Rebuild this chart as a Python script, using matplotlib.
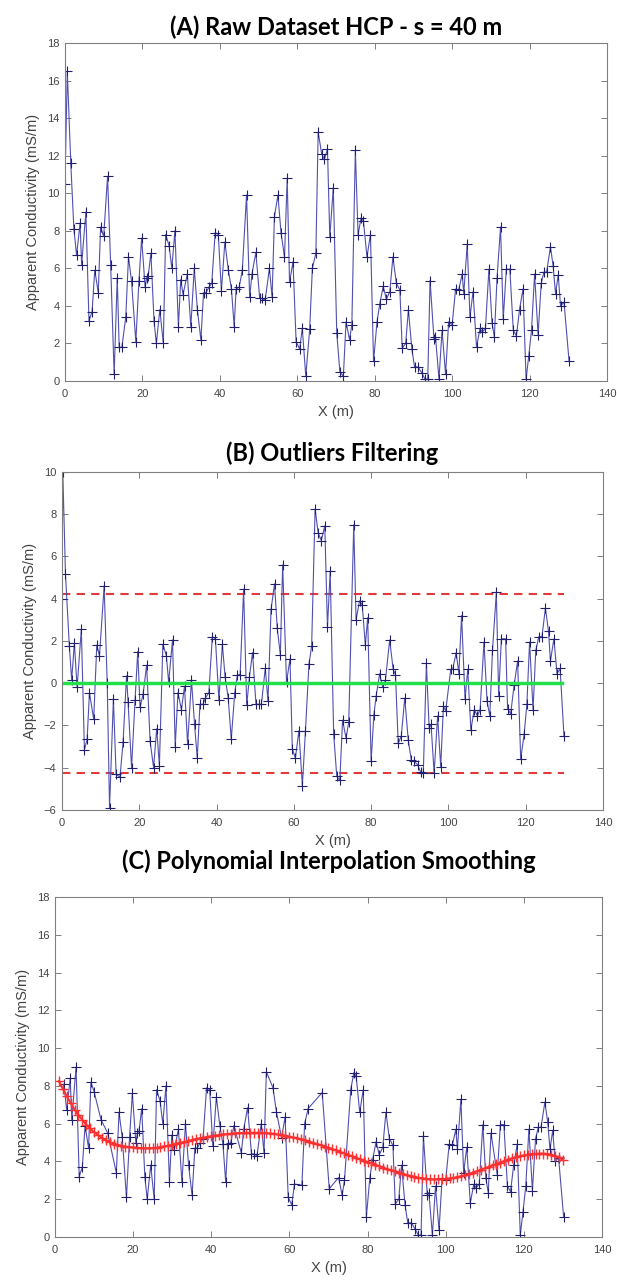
import numpy as np
import matplotlib
matplotlib.use('Agg')
import matplotlib.pyplot as plt

# raw apparent conductivity, HCP s = 40 m
a_x = [0.0, 0.6, 1.5, 2.3, 3.0, 3.9, 4.3, 5.4, 6.2, 7.0, 7.7, 8.6, 9.2, 10.0, 11.0, 11.8,
       12.7, 13.5, 14.0, 14.7, 15.7, 16.4, 17.2, 18.3, 19.1, 19.8, 20.7, 21.1, 21.5, 22.2,
       23.0, 23.6, 24.5, 25.4, 26.0, 26.9, 27.6, 28.4, 29.3, 29.9, 30.5, 31.6, 32.5, 33.4,
       34.2, 35.1, 35.8, 36.4, 37.2, 37.9, 38.8, 39.6, 40.4, 41.3, 42.2, 43.0, 43.7, 44.2,
       45.0, 45.8, 46.9, 47.7, 48.3, 49.3, 50.3, 50.9, 51.7, 52.8, 53.5, 54.1, 55.0, 55.8,
       56.7, 57.4, 58.0, 58.9, 59.7, 60.6, 61.3, 62.2, 63.2, 63.9, 64.8, 65.4, 66.3, 67.0,
       67.8, 68.4, 69.3, 70.2, 71.0, 71.9, 72.6, 73.5, 74.1, 75.0, 75.7, 76.5, 77.1, 78.0,
       78.9, 79.7, 80.6, 81.3, 82.2, 83.0, 83.9, 84.7, 85.6, 86.5, 87.1, 88.0, 88.7, 89.6,
       90.3, 91.2, 92.1, 93.0, 93.7, 94.3, 95.3, 95.7, 96.6, 97.4, 98.3, 99.1, 100.0, 100.9,
       101.7, 102.6, 103.0, 103.9, 104.6, 105.4, 106.3, 107.2, 107.8, 108.6, 109.5, 110.3,
       110.9, 111.6, 112.5, 113.2, 114.0, 114.9, 115.8, 116.6, 117.4, 118.3, 119.1, 119.8,
       120.5, 121.3, 122.2, 123.0, 123.7, 124.4, 125.4, 126.1, 126.7, 127.4, 128.0, 128.9,
       130.2]
a_val = [10.5, 16.5, 11.6, 8.1, 6.7, 8.4, 6.2, 9.0, 3.2, 3.7, 5.9, 4.7, 8.2, 7.7, 10.9, 6.2,
         0.35, 5.5, 1.8, 1.8, 3.4, 6.6, 5.3, 2.1, 5.3, 7.6, 5.0, 5.5, 5.6, 6.8,
         3.2, 2.0, 3.8, 2.0, 7.8, 7.2, 6.0, 8.0, 2.9, 5.4, 4.6, 5.7, 2.9, 6.0,
         3.8, 2.2, 4.7, 4.7, 5.0, 5.2, 7.9, 7.8, 4.8, 7.4, 5.9, 4.9, 2.9, 4.9,
         5.0, 5.9, 9.9, 4.45, 5.7, 6.85, 4.4, 4.4, 4.3, 6.0, 4.45, 8.75, 9.9, 7.9,
         6.6, 10.8, 5.25, 6.35, 2.1, 1.7, 2.8, 0.25, 2.75, 6.0, 6.8, 13.25, 12.1, 11.8,
         12.35, 7.65, 10.3, 2.55, 0.5, 0.25, 3.15, 2.2, 3.0, 12.3, 7.8, 8.7, 8.5, 6.6,
         7.8, 1.05, 3.15, 4.1, 5.05, 4.35, 4.75, 6.6, 5.2, 4.85, 1.75, 2.0, 3.8, 1.7,
         0.75, 0.75, 0.45, 0.1, 0.1, 5.35, 2.25, 2.35, 0.1, 2.7, 0.35, 3.15, 3.0, 4.9,
         4.85, 5.7, 4.65, 7.3, 3.4, 4.75, 1.8, 2.8, 2.6, 2.8, 5.95, 3.1,
         2.35, 5.5, 8.2, 3.3, 5.95, 5.95, 2.7, 2.4, 3.8, 4.9, 0.1, 1.35,
         2.7, 5.7, 2.45, 5.2, 5.8, 5.8, 7.15, 6.1, 4.65, 5.65, 4.0, 4.2,
         1.05]

# detrended values used for outlier filtering
b_x = [0.0, 0.2, 0.9, 1.9, 2.5, 3.2, 3.9, 5.0, 5.8, 6.5, 7.1, 8.2, 9.0, 9.7, 10.9, 11.7,
       12.3, 13.3, 14.0, 15.0, 15.8, 16.7, 17.1, 18.0, 18.9, 19.6, 20.2, 21.0, 21.9, 22.8,
       23.7, 24.5, 25.2, 26.1, 27.0, 27.6, 28.6, 29.3, 30.0, 30.9, 31.7, 32.5, 33.5, 34.3,
       35.0, 35.7, 36.5, 37.1, 38.0, 38.9, 39.7, 40.6, 41.5, 42.2, 43.0, 43.8, 44.7, 45.4,
       46.1, 47.0, 47.8, 48.5, 49.3, 50.2, 50.9, 51.6, 52.6, 53.3, 54.1, 55.0, 55.7, 56.5,
       57.1, 58.1, 59.0, 59.6, 60.4, 61.3, 62.2, 63.0, 63.9, 64.6, 65.5, 66.3, 67.1, 68.0,
       68.7, 69.4, 70.3, 71.1, 71.9, 72.6, 73.5, 74.2, 75.5, 76.1, 77.0, 77.7, 78.5, 79.1,
       80.0, 80.7, 81.3, 82.2, 83.0, 83.7, 84.8, 85.7, 86.3, 87.0, 87.8, 88.7, 89.6, 90.4,
       91.1, 92.0, 92.8, 93.5, 94.3, 95.0, 95.5, 96.3, 97.2, 98.0, 98.7, 99.3, 100.6, 101.1,
       102.0, 102.7, 103.4, 104.3, 105.0, 105.8, 106.7, 107.5, 108.2, 109.2, 110.0, 110.7,
       111.4, 112.4, 113.0, 113.7, 114.8, 115.3, 116.1, 117.0, 117.9, 118.7, 119.6, 120.3,
       121.0, 121.9, 122.6, 123.4, 124.2, 125.1, 125.9, 126.4, 127.3, 128.1, 128.9, 129.9]
b_val = [4.0, 10.0, 5.15, 1.75, 0.15, 1.9, -0.2, 2.55, -3.15, -2.65, -0.45, -1.7, 1.8, 1.3, 4.6, 0.0,
         -5.9, -0.75, -4.3, -4.45, -2.8, 0.35, -0.9, -4.0, -0.8, 1.5, -1.15, -0.5, 0.85, -2.75,
         -4.0, -2.15, -3.9, 1.85, 1.3, 0.05, 2.05, -3.0, -0.45, -1.25, -0.15, -2.9, 0.15, -1.95,
         -3.55, -1.0, -1.0, -0.7, -0.45, 2.2, 2.1, -0.8, 1.85, 0.3, -0.7, -2.65, -0.45, 0.4,
         0.4, 4.45, -1.05, 0.3, 1.45, -1.0, -1.0, -1.0, 0.7, -0.85, 3.5, 4.7, 2.6, 1.35,
         5.6, 0.05, 1.15, -3.1, -3.55, -2.25, -4.85, -2.25, 0.9, 1.75, 8.25, 7.1, 6.75, 7.45,
         2.65, 5.3, -2.4, -4.4, -4.6, -1.75, -2.6, -1.85, 7.5, 3.0, 3.9, 3.7, 1.8, 3.1,
         -3.7, -1.5, -0.6, 0.45, -0.2, 0.15, 2.05, 0.65, 0.4, -2.85, -2.5, -0.7, -2.7, -3.65,
         -3.7, -3.85, -4.2, -4.25, 0.95, -2.1, -1.95, -4.25, -1.55, -3.95, -1.1, -1.3, 0.65, 0.65,
         1.45, 0.45, 3.2, -0.75, 0.65, -2.2, -1.25, -1.55, -1.25, 1.95, -0.85, -1.55,
         1.55, 4.3, -0.6, 2.1, 2.1, -1.2, -1.45, -0.1, 1.05, -3.6, -2.4, -1.0,
         1.95, -1.25, 1.55, 2.2, 2.2, 3.55, 2.45, 1.05, 2.1, 0.45, 0.7, -2.5]
b_limit = 4.23

# raw points rejected as outliers (x positions)
c_removed_x = [0.0, 0.6, 1.5, 11.0, 12.7, 14.0, 14.7, 46.9, 55.0, 57.4, 62.2, 65.4, 66.3,
               67.0, 67.8, 69.3, 71.0, 71.9, 75.0, 112.5]

# polynomial smoothing curve
trend_x = list(range(1, 131))
trend_val = [8.25, 7.85, 7.45, 7.1, 6.75, 6.45, 6.2, 5.95, 5.75, 5.55,
             5.4, 5.25, 5.12, 5.02, 4.95, 4.88, 4.83, 4.79, 4.76, 4.74,
             4.72, 4.71, 4.7, 4.7, 4.71, 4.73, 4.76, 4.8, 4.84, 4.88,
             4.93, 4.98, 5.03, 5.08, 5.13, 5.18, 5.22, 5.26, 5.3, 5.34,
             5.37, 5.4, 5.43, 5.45, 5.47, 5.49, 5.5, 5.51, 5.52, 5.52,
             5.52, 5.52, 5.51, 5.5, 5.48, 5.46, 5.43, 5.4, 5.36, 5.32,
             5.27, 5.22, 5.17, 5.11, 5.05, 4.99, 4.93, 4.86, 4.79, 4.72,
             4.65, 4.58, 4.5, 4.43, 4.35, 4.28, 4.2, 4.12, 4.05, 3.97,
             3.9, 3.82, 3.75, 3.67, 3.6, 3.53, 3.47, 3.4, 3.34, 3.28,
             3.23, 3.18, 3.14, 3.11, 3.08, 3.06, 3.05, 3.05, 3.06, 3.07,
             3.1, 3.13, 3.17, 3.22, 3.28, 3.34, 3.41, 3.48, 3.56, 3.63,
             3.71, 3.79, 3.87, 3.94, 4.02, 4.09, 4.16, 4.22, 4.27, 4.32,
             4.36, 4.39, 4.41, 4.42, 4.42, 4.4, 4.36, 4.3, 4.21, 4.08]

plt.rcParams['font.family'] = ['Liberation Sans', 'DejaVu Sans']

line_col = '#5050b0'
mark_col = '#20206e'
axis_col = '#808080'
text_col = '#444444'


def style_axes(ax, ylim, yticks):
    ax.set_xlim(0, 140)
    ax.set_ylim(*ylim)
    ax.set_xticks(range(0, 141, 20))
    ax.set_yticks(yticks)
    ax.tick_params(direction='in', top=True, right=True, length=4, width=0.7,
                   colors=axis_col, labelcolor=text_col, labelsize=8)
    ax.tick_params(axis='x', pad=6)
    ax.tick_params(axis='y', pad=4)
    for s in ax.spines.values():
        s.set_color(axis_col)
        s.set_linewidth(0.8)
    ax.set_xlabel('X (m)', fontsize=10.5, color=text_col, labelpad=4)
    ax.set_ylabel('Apparent Conductivity (mS/m)', fontsize=10.5, color=text_col, labelpad=5)


def plot_series(ax, x, y):
    ax.plot(x, y, '-', color=line_col, lw=0.8)
    ax.plot(x, y, '+', color=mark_col, ms=7, mew=0.8)


title_font = dict(family=['Lato', 'DejaVu Sans'], fontweight='bold', fontsize=17, color='black')

fig = plt.figure(figsize=(6.17, 12.82), dpi=100)

# (A)
ax1 = fig.add_axes([0.1053, 0.7028, 0.8785, 0.2637])
plot_series(ax1, a_x, a_val)
style_axes(ax1, (0, 18), range(0, 19, 2))
ax1.set_title('(A) Raw Dataset HCP - s = 40 m', pad=6, **title_font)

# (B)
ax2 = fig.add_axes([0.1005, 0.3682, 0.8768, 0.2637])
ax2.plot([0, 130], [b_limit, b_limit], '--', color='#e03a3a', lw=1.5, dashes=(4, 3))
ax2.plot([0, 130], [-b_limit, -b_limit], '--', color='#e03a3a', lw=1.5, dashes=(4, 3))
plot_series(ax2, b_x, b_val)
ax2.plot([0, 129.5], [0, 0], '-', color='#22e04a', lw=2.5)
style_axes(ax2, (-6, 10), range(-6, 11, 2))
ax2.set_title('(B) Outliers Filtering', pad=8, **title_font)

# (C)
keep = ~np.isin(np.array(a_x), c_removed_x)
ax3 = fig.add_axes([0.0891, 0.0351, 0.8865, 0.2652])
plot_series(ax3, np.array(a_x)[keep], np.array(a_val)[keep])
ax3.plot(trend_x, trend_val, '-', color='#ff3030', lw=1.5)
ax3.plot(trend_x, trend_val, '+', color='#ff3030', ms=7, mew=1.0)
style_axes(ax3, (0, 18), range(0, 19, 2))
ax3.set_title('(C) Polynomial Interpolation Smoothing', pad=20, **title_font)

fig.savefig('out.png', dpi=100, facecolor='white')
